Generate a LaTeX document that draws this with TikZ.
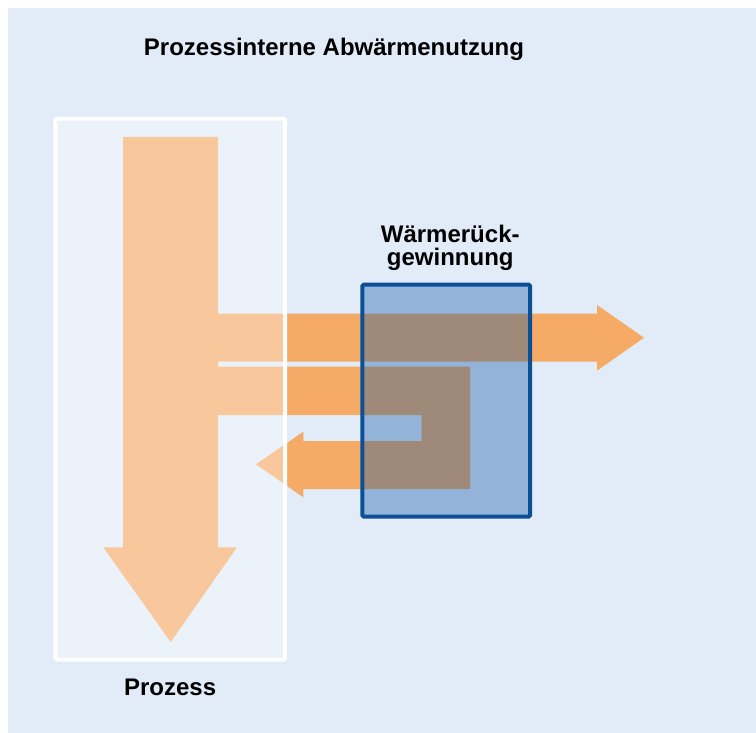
\documentclass[tikz,border=0pt]{standalone}
\usepackage{fontspec}
\setmainfont{Liberation Sans}
\usepackage{tikz}
\usetikzlibrary{positioning}
\definecolor{hrBg}{HTML}{E2ECF8}
\definecolor{hrOrange}{HTML}{F5AA65}
\definecolor{hrBlue}{HTML}{004C9D}
\definecolor{hrBlueDark}{HTML}{0B4F97}
\tikzset{
  flow/.style={fill=hrOrange, draw=none},
  procbox/.style={
    rectangle, rounded corners=1.5pt,
    draw=white, line width=4pt,
    fill=white, fill opacity=0.36,
    minimum width=229.7pt, minimum height=541pt
  },
  wrgbox/.style={
    rectangle, rounded corners=1.5pt,
    draw=hrBlueDark, line width=4pt,
    fill=hrBlue, fill opacity=0.35,
    minimum width=167.9pt, minimum height=232pt
  },
  heading/.style={font=\fontsize{24}{23}\selectfont\bfseries, inner sep=0pt, align=center}
}

\begin{document}
\begin{tikzpicture}[x=1pt, y=-1pt]
  \useasboundingbox (0,0) rectangle (756,733);
  \fill[hrBg] (8,8) rectangle (756,733);
  % heat flows
  \fill[flow] (123,137) -- (218,137) -- (218,547.3) -- (237,547.3) -- (170.7,642) -- (103.3,547.3) -- (123,547.3) -- cycle;
  \fill[flow] (218,313.7) -- (597,313.7) -- (597,305) -- (644,337.7) -- (597,370.7) -- (597,361.7) -- (218,361.7) -- cycle;
  \fill[flow] (218,366.7) -- (470,366.7) -- (470,489) -- (303.3,489) -- (303.3,497.3) -- (256,464.3) -- (303.3,431.7) -- (303.3,441) -- (421.7,441) -- (421.7,415) -- (218,415) -- cycle;
  % boxes
  \node[procbox] (proc) at (170.15,389.2) {};
  \node[wrgbox] (wrg) at (446.25,400.7) {};
  \node[heading, anchor=base] (title) at (334,56) {Prozessinterne Abwärmenutzung};
  \node[heading, above=11.5pt of wrg, xshift=4pt] (wrglabel) {Wärmerück-\\gewinnung};
  \node[heading, below=16.8pt of proc] (proclabel) {Prozess};
\end{tikzpicture}
\end{document}
